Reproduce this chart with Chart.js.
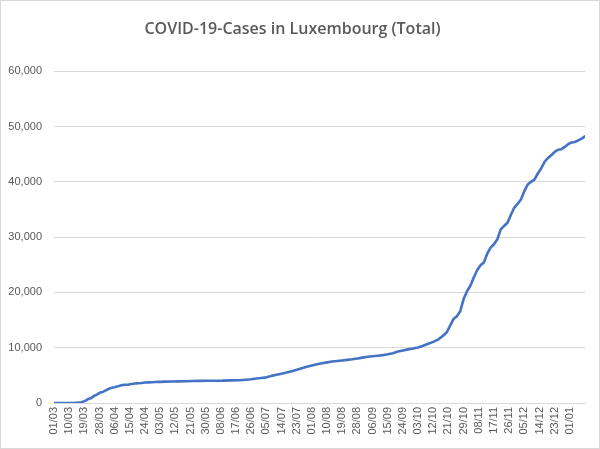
<!DOCTYPE html>
<html lang="en">
<head>
  <meta charset="UTF-8" />
  <title>COVID-19-Cases in Luxembourg (Total)</title>
  <style>
    html, body {
      margin: 0;
      padding: 0;
      background: #ffffff;
    }
    .wrap {
      width: 600px;
      height: 449px;
    }
  </style>
</head>
<body>
  <div class="wrap"><canvas id="chart" width="600" height="449"></canvas></div>

  <script src="https://cdn.jsdelivr.net/npm/chart.js"></script>
  <script>
    // day number counted from 01/03 (day 0), and total cases on that day
    const days = [0, 7, 10, 12, 14, 16, 17, 18, 19, 20, 21, 22, 23, 24, 25, 26, 27, 28, 29, 30,
      31, 32, 33, 34, 35, 36, 37, 38, 39, 40, 41, 42, 43, 44, 45, 46, 47, 48, 49, 50,
      52, 54, 56, 58, 60, 63, 66, 70, 74, 78, 82, 86, 90, 95, 100, 105, 110, 114, 117, 120,
      123, 126, 129, 132, 135, 138, 141, 144, 147, 150, 153, 156, 159, 162, 165, 168, 171, 174, 177, 180,
      183, 186, 189, 192, 195, 198, 201, 204, 207, 210, 213, 216, 219, 222, 225, 228, 231, 233, 235, 237,
      239, 241, 243, 245, 247, 249, 251, 253, 255, 257, 259, 261, 263, 265, 267, 269, 271, 273, 275, 277,
      279, 281, 283, 285, 287, 289, 291, 293, 295, 297, 299, 301, 303, 305, 307, 309, 311, 313, 315];

    const cases = [0, 3, 7, 34, 77, 140, 203, 335, 484, 670, 798, 875, 1099, 1333, 1453, 1605, 1831, 1950, 1988, 2178,
      2319, 2487, 2612, 2729, 2804, 2843, 2970, 3034, 3115, 3223, 3270, 3281, 3292, 3307, 3373, 3444, 3480, 3537, 3550, 3558,
      3618, 3695, 3723, 3741, 3784, 3828, 3859, 3877, 3904, 3930, 3981, 3995, 4016, 4032, 4040, 4085, 4120, 4216, 4299, 4415,
      4522, 4640, 4905, 5100, 5300, 5500, 5750, 6000, 6300, 6550, 6800, 7000, 7200, 7350, 7500, 7600, 7700, 7800, 7900, 8050,
      8200, 8350, 8450, 8550, 8650, 8800, 9000, 9300, 9500, 9700, 9850, 10050, 10350, 10700, 11050, 11500, 12200, 12800, 14000, 15200,
      15700, 16600, 18800, 20200, 21200, 22700, 24000, 24900, 25400, 27000, 28100, 28700, 29600, 31400, 32000, 32600, 34000, 35300, 36000, 36800,
      38300, 39500, 40000, 40400, 41500, 42400, 43600, 44300, 44800, 45400, 45800, 45900, 46300, 46800, 47100, 47200, 47500, 47800, 48200];

    // one label every 9 days, as on the original axis
    const tickLabels = ['01/03', '10/03', '19/03', '28/03', '06/04', '15/04', '24/04', '03/05', '12/05', '21/05',
      '30/05', '08/06', '17/06', '26/06', '05/07', '14/07', '23/07', '01/08', '10/08', '19/08',
      '28/08', '06/09', '15/09', '24/09', '03/10', '12/10', '21/10', '29/10', '08/11', '17/11',
      '26/11', '05/12', '14/12', '23/12', '01/01'];

    const points = days.map((d, i) => ({ x: d, y: cases[i] }));

    // white background and thin grey frame like the spreadsheet chart
    const frame = {
      id: 'frame',
      beforeDraw(chart) {
        const ctx = chart.ctx;
        ctx.save();
        ctx.fillStyle = '#ffffff';
        ctx.fillRect(0, 0, chart.width, chart.height);
        ctx.strokeStyle = '#d9d9d9';
        ctx.lineWidth = 1;
        ctx.strokeRect(0.5, 0.5, chart.width - 1, chart.height - 1);
        ctx.restore();
      }
    };

    new Chart(document.getElementById('chart'), {
      type: 'line',
      data: {
        datasets: [{
          label: 'Total cases',
          data: points,
          borderColor: '#4472c4',
          borderWidth: 2.6,
          pointRadius: 0,
          tension: 0,
          borderJoinStyle: 'round',
          borderCapStyle: 'round'
        }]
      },
      options: {
        responsive: false,
        animation: false,
        layout: { padding: { left: 0, right: 15, top: 0, bottom: 0 } },
        plugins: {
          legend: { display: false },
          tooltip: { enabled: false },
          title: {
            display: true,
            text: 'COVID-19-Cases in Luxembourg (Total)',
            color: '#595959',
            font: { family: 'Open Sans', size: 16, weight: '600' },
            padding: { top: 20, bottom: 32 }
          }
        },
        scales: {
          x: {
            type: 'linear',
            min: 0,
            max: 315,
            grid: { drawOnChartArea: false, drawTicks: false },
            border: { display: true, color: '#d9d9d9' },
            afterBuildTicks: s => {
              s.ticks = s.ticks.filter(t => t.value % 9 === 0 && t.value / 9 < tickLabels.length);
            },
            afterFit: s => { s.height = 46; },
            ticks: {
              stepSize: 9,
              autoSkip: false,
              minRotation: 90,
              maxRotation: 90,
              padding: 4,
              color: '#595959',
              font: { family: 'Liberation Sans', size: 11 },
              callback: v => tickLabels[v / 9]
            }
          },
          y: {
            min: 0,
            max: 60000,
            grid: { color: '#d9d9d9', drawTicks: false },
            border: { display: false },
            afterFit: s => { s.width = 54; },
            ticks: {
              stepSize: 10000,
              padding: 12,
              color: '#595959',
              font: { family: 'Liberation Sans', size: 11 },
              callback: v => v.toLocaleString('en-US')
            }
          }
        }
      },
      plugins: [frame]
    });
  </script>
</body>
</html>
